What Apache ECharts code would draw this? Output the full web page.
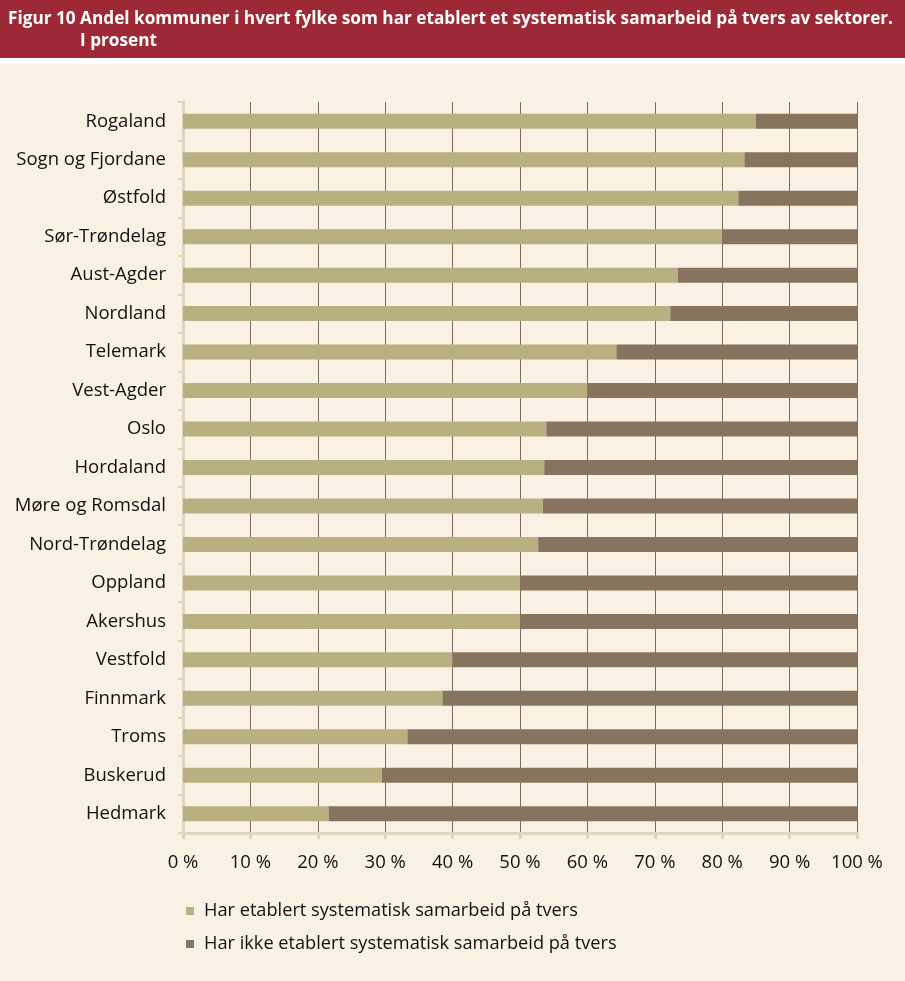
<!DOCTYPE html>
<html>
<head>
<meta charset="utf-8">
<script src="https://cdn.jsdelivr.net/npm/echarts@6/dist/echarts.min.js"></script>
<style>
html,body{margin:0;padding:0;background:#f9f1e3;}
#c{width:905px;height:981px;}
</style>
</head>
<body>
<div id="c"></div>
<script>
const categories = ["Rogaland","Sogn og Fjordane","Østfold","Sør-Trøndelag","Aust-Agder","Nordland","Telemark","Vest-Agder","Oslo","Hordaland","Møre og Romsdal","Nord-Trøndelag","Oppland","Akershus","Vestfold","Finnmark","Troms","Buskerud","Hedmark"];
const harEtablert = [85.0,83.3,82.4,80.0,73.4,72.3,64.3,60.0,53.9,53.6,53.4,52.7,50.0,50.0,40.0,38.5,33.3,29.5,21.6];
const harIkke = [15.0,16.7,17.6,20.0,26.6,27.7,35.7,40.0,46.1,46.4,46.6,47.3,50.0,50.0,60.0,61.5,66.7,70.5,78.4];
const seriesNames = ["Har etablert systematisk samarbeid på tvers","Har ikke etablert systematisk samarbeid på tvers"];
const titleLines = ["Figur 10 Andel kommuner i hvert fylke som har etablert et systematisk samarbeid på tvers av sektorer.","I prosent"];

const FONT = "'Open Sans', 'Noto Sans', sans-serif";
const TFONT = "bold 18px 'Open Sans', sans-serif";
const ctx = document.createElement('canvas').getContext('2d');
ctx.font = TFONT;
const w1 = ctx.measureText(titleLines[0]).width;
const sx = 885 / w1;

const chart = echarts.init(document.getElementById('c'), null, {renderer:'canvas'});
chart.setOption({
  backgroundColor:'#f9f1e3',
  animation:false,
  graphic:[
    {type:'rect', left:0, top:0, shape:{width:905,height:58}, style:{fill:'#9d2937'}},
    {type:'rect', left:0, top:58, shape:{width:905,height:6}, style:{fill:'#ffffff'}},
    {type:'text', x:8, y:10, scaleX:sx, style:{text:titleLines[0], fill:'#ffffff', font:TFONT}},
    {type:'text', x:80, y:32, scaleX:sx, style:{text:titleLines[1], fill:'#ffffff', font:TFONT}}
  ],
  grid:{left:183, right:48, top:102, bottom:148, containLabel:false},
  legend:{
    orient:'vertical', left:181, top:895, itemGap:11, itemWidth:8, itemHeight:8, icon:'rect',
    textStyle:{fontSize:18.2, lineHeight:22, color:'#111', fontFamily:FONT, padding:[0,0,0,5]},
    data:seriesNames
  },
  xAxis:{
    type:'value', min:0, max:100, interval:10,
    axisLine:{show:true, lineStyle:{color:'#ddd5bd', width:3}},
    axisTick:{show:true, length:6, lineStyle:{color:'#ddd5bd', width:3}},
    splitLine:{show:true, lineStyle:{color:'#7f6b5a', width:1}},
    axisLabel:{formatter:'{value} %', fontSize:18.5, color:'#111', fontFamily:FONT, margin:20}
  },
  yAxis:{
    type:'category', inverse:true, data:categories,
    axisLine:{show:true, lineStyle:{color:'#ddd5bd', width:3}},
    axisTick:{show:true, length:5, lineStyle:{color:'#ddd5bd', width:2}},
    axisLabel:{fontSize:18.5, color:'#111', fontFamily:FONT, margin:17}
  },
  series:[
    {name:seriesNames[0], type:'bar', stack:'t', data:harEtablert, barWidth:15, itemStyle:{color:'#b8b080'}},
    {name:seriesNames[1], type:'bar', stack:'t', data:harIkke, barWidth:15, itemStyle:{color:'#88735f'}}
  ]
});
</script>
</body>
</html>
